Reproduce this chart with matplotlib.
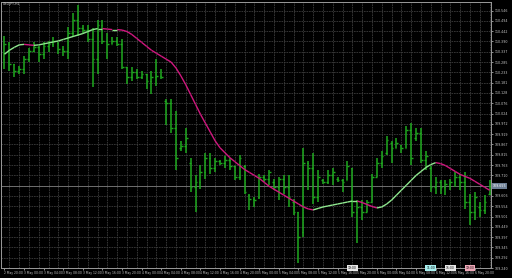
import matplotlib.pyplot as plt
from matplotlib.collections import LineCollection
import numpy as np
import pandas as pd

symbol = "USDJPY,H1"

high = [110.420, 110.385, 110.275, 110.265, 110.315, 110.355, 110.385, 110.365, 110.385, 110.390,
        110.410, 110.385, 110.365, 110.465, 110.535, 110.575, 110.475, 110.475, 110.460, 110.500,
        110.500, 110.435, 110.410, 110.410, 110.400, 110.260, 110.260, 110.250, 110.240, 110.225,
        110.240, 110.300, 110.250, 110.100, 110.100, 110.035, 109.885, 109.950, 109.800, 109.710,
        109.765, 109.825, 109.825, 109.800, 109.790, 109.810, 109.800, 109.760, 109.815, 109.765,
        109.615, 109.600, 109.715, 109.710, 109.740, 109.690, 109.700, 109.710, 109.710, 109.590,
        109.525, 109.850, 109.785, 109.825, 109.735, 109.690, 109.735, 109.750, 109.700, 109.690,
        109.785, 109.750, 109.585, 109.585, 109.585, 109.715, 109.800, 109.835, 109.910, 109.885,
        109.900, 109.865, 109.960, 109.975, 109.950, 109.950, 109.835, 109.760, 109.700, 109.685,
        109.685, 109.690, 109.725, 109.715, 109.725, 109.615, 109.625, 109.575, 109.610, 109.685]

low = [110.250, 110.240, 110.210, 110.225, 110.225, 110.285, 110.335, 110.285, 110.300, 110.335,
       110.360, 110.325, 110.315, 110.300, 110.410, 110.415, 110.435, 110.385, 110.160, 110.225,
       110.375, 110.300, 110.375, 110.365, 110.250, 110.175, 110.190, 110.200, 110.200, 110.150,
       110.125, 110.165, 110.200, 109.965, 109.925, 109.740, 109.835, 109.825, 109.625, 109.525,
       109.640, 109.690, 109.715, 109.725, 109.765, 109.750, 109.735, 109.685, 109.685, 109.615,
       109.535, 109.550, 109.590, 109.675, 109.660, 109.635, 109.585, 109.615, 109.550, 109.510,
       109.265, 109.400, 109.635, 109.565, 109.575, 109.665, 109.665, 109.660, 109.675, 109.625,
       109.685, 109.500, 109.365, 109.485, 109.525, 109.575, 109.700, 109.750, 109.815, 109.775,
       109.850, 109.825, 109.850, 109.765, 109.885, 109.775, 109.735, 109.625, 109.615, 109.615,
       109.610, 109.635, 109.650, 109.635, 109.540, 109.460, 109.485, 109.500, 109.515, 109.610]

open_ = [110.300, 110.375, 110.275, 110.240, 110.250, 110.300, 110.340, 110.360, 110.325, 110.365,
         110.375, 110.380, 110.350, 110.340, 110.435, 110.500, 110.460, 110.450, 110.400, 110.300,
         110.475, 110.390, 110.375, 110.390, 110.375, 110.260, 110.210, 110.235, 110.210, 110.225,
         110.190, 110.210, 110.215, 110.090, 110.075, 109.950, 109.850, 109.860, 109.775, 109.650,
         109.675, 109.725, 109.800, 109.750, 109.785, 109.775, 109.790, 109.760, 109.700, 109.760,
         109.610, 109.590, 109.600, 109.700, 109.690, 109.675, 109.650, 109.690, 109.650, 109.575,
         109.525, 109.425, 109.775, 109.750, 109.600, 109.685, 109.675, 109.710, 109.690, 109.685,
         109.685, 109.750, 109.525, 109.550, 109.525, 109.575, 109.700, 109.775, 109.825, 109.875,
         109.850, 109.865, 109.850, 109.940, 109.900, 109.925, 109.790, 109.750, 109.650, 109.675,
         109.650, 109.665, 109.675, 109.700, 109.675, 109.575, 109.525, 109.550, 109.535, 109.615]

close = [110.375, 110.275, 110.240, 110.250, 110.300, 110.340, 110.360, 110.325, 110.365, 110.375,
         110.390, 110.350, 110.340, 110.435, 110.500, 110.460, 110.450, 110.400, 110.300, 110.475,
         110.390, 110.375, 110.390, 110.375, 110.260, 110.210, 110.235, 110.210, 110.225, 110.190,
         110.210, 110.215, 110.210, 110.075, 109.950, 109.800, 109.860, 109.900, 109.650, 109.675,
         109.725, 109.800, 109.750, 109.785, 109.775, 109.790, 109.760, 109.700, 109.800, 109.625,
         109.590, 109.585, 109.700, 109.690, 109.725, 109.650, 109.690, 109.650, 109.600, 109.525,
         109.400, 109.775, 109.750, 109.600, 109.700, 109.675, 109.710, 109.725, 109.685, 109.675,
         109.760, 109.525, 109.550, 109.525, 109.575, 109.700, 109.775, 109.810, 109.890, 109.850,
         109.875, 109.850, 109.940, 109.800, 109.925, 109.790, 109.810, 109.650, 109.675, 109.650,
         109.665, 109.675, 109.700, 109.675, 109.575, 109.525, 109.600, 109.535, 109.575, 109.655]

ma = [110.325, 110.345, 110.360, 110.3725, 110.375, 110.3725, 110.370, 110.3725, 110.3775, 110.3825,
      110.3875, 110.3925, 110.400, 110.4075, 110.415, 110.4225, 110.430, 110.440, 110.450, 110.455,
      110.455, 110.4525, 110.450, 110.450, 110.4475, 110.440, 110.425, 110.405, 110.385, 110.365,
      110.345, 110.330, 110.315, 110.300, 110.285, 110.255, 110.215, 110.170, 110.120, 110.070,
      110.020, 109.975, 109.930, 109.885, 109.850, 109.825, 109.800, 109.780, 109.760, 109.740,
      109.725, 109.710, 109.695, 109.675, 109.655, 109.640, 109.625, 109.610, 109.595, 109.580,
      109.565, 109.550, 109.540, 109.535, 109.5425, 109.550, 109.555, 109.560, 109.565, 109.570,
      109.575, 109.580, 109.580, 109.5725, 109.5625, 109.5525, 109.545, 109.550, 109.565, 109.585,
      109.610, 109.635, 109.660, 109.685, 109.710, 109.730, 109.750, 109.765, 109.775, 109.770,
      109.760, 109.745, 109.730, 109.715, 109.705, 109.695, 109.680, 109.665, 109.650, 109.635]

bid = 109.655
times = pd.date_range("2016-05-02 20:00", periods=len(close), freq="h")
marker_bars = [71, 87, 91, 95]
marker_colors = ["#e8e8e8", "#a8f0f0", "#e8e8e8", "#f0a8b8"]

# figure / axes laid out like the terminal window
fig = plt.figure(figsize=(5.12, 2.78), dpi=100, facecolor="black")
ax = fig.add_axes([1 / 512, 10 / 278, 490 / 512, 266 / 278], facecolor="black")

x = np.arange(len(close))
bar_col = "#1faa1f"
ax.vlines(x, low, high, color=bar_col, lw=1.1, zorder=3)
ax.hlines(open_, x - 0.35, x, color=bar_col, lw=1.0, zorder=3)
ax.hlines(close, x, x + 0.35, color=bar_col, lw=1.0, zorder=3)

# moving average, green when rising, magenta when falling
pts = np.column_stack([x, ma])
segs = np.stack([pts[:-1], pts[1:]], axis=1)
cols = ["#8fe88f" if ma[i + 1] >= ma[i] else "#d0177f" for i in range(len(ma) - 1)]
ax.add_collection(LineCollection(segs, colors=cols, linewidths=1.0, zorder=4))

ax.axhline(bid, color="#7a7a7a", lw=0.6, zorder=2)

ax.set_xlim(-0.714, 99.29)
ax.set_ylim(109.26, 110.59)

yt = 110.5465 - 0.05225 * np.arange(26)
ax.set_yticks(yt)
# the label nearest the bid is hidden behind the bid box
ax.set_yticklabels(["" if abs(v - bid) < 0.02 else "%.3f" % v for v in yt])
ax.yaxis.tick_right()
ax.tick_params(axis="y", colors="#c8c8c8", labelsize=2.3, length=1.5, width=0.5, pad=1.2)

xt = x[::4]
ax.set_xticks(xt)
ax.set_xticklabels([t.strftime("%-d %b %H:%M") for t in times[::4]], ha="left")
ax.tick_params(axis="x", colors="#c8c8c8", labelsize=2.2, length=1.5, width=0.5, pad=1.0)
ax.set_xticks(x[1::2], minor=True)
ax.tick_params(axis="x", which="minor", length=0)

ax.grid(True, which="major", axis="y", color="#3c3c3c", lw=0.6, ls=(0, (2, 1)))
ax.grid(True, which="minor", axis="x", color="#3c3c3c", lw=0.6, ls=(0, (2, 1)))
ax.grid(False, which="major", axis="x")

for s in ax.spines.values():
    s.set_color("#9a9a9a")
    s.set_linewidth(0.7)

ax.text(1.004, bid, "%.3f" % bid, transform=ax.get_yaxis_transform(), fontsize=2.3,
        color="white", va="center", ha="left",
        bbox=dict(boxstyle="square,pad=0.25", fc="#6d7f95", ec="none"))

for b, c in zip(marker_bars, marker_colors):
    ax.text(b, 0.0, times[b].strftime("%H:%M"), transform=ax.get_xaxis_transform(),
            fontsize=2.2, color="black", ha="center", va="center", zorder=6,
            bbox=dict(boxstyle="square,pad=0.3", fc=c, ec="none"))

fig.text(3 / 512, 1 - 4 / 278, symbol, fontsize=2.3, color="#d0d0d0", va="center", ha="left")

fig.savefig("out.png", dpi=100, facecolor="black")
